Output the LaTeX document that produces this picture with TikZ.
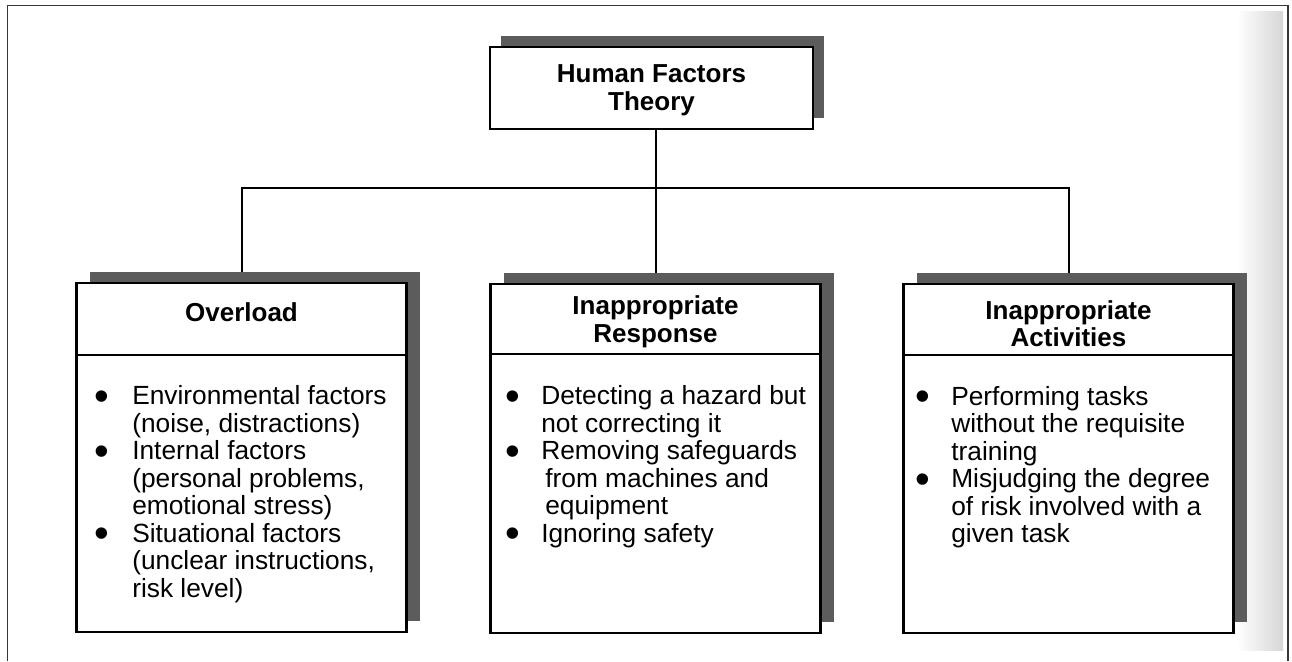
\documentclass[tikz,border=0pt]{standalone}
\usepackage{fontspec}
\setmainfont{Liberation Sans}
\usetikzlibrary{shadows,calc}
\pgfdeclarelayer{background}
\pgfsetlayers{background,main}
\definecolor{shadowc}{RGB}{92,92,92}
\definecolor{framec}{RGB}{55,55,55}
\newcommand{\blt}{\raisebox{-5.5pt}{\fontsize{42}{42}\selectfont\textbullet}}
\tikzset{
  box/.style={draw=black, line width=2.8pt, fill=white, inner sep=0pt,
    minimum width=330pt, minimum height=349pt,
    drop shadow={opacity=1, fill=shadowc, shadow xshift=13pt, shadow yshift=11.5pt}},
  topbox/.style={draw=black, line width=2.8pt, fill=white, inner sep=0pt,
    minimum width=323pt, minimum height=82pt,
    drop shadow={opacity=1, fill=shadowc, shadow xshift=11pt, shadow yshift=11pt}},
  hdr/.style={font=\fontsize{26}{27.5}\selectfont\bfseries, align=center, inner sep=0pt},
  body/.style={font=\fontsize{26.3}{27.5}\selectfont, anchor=north west, inner sep=0pt},
  divider/.style={line width=2pt},
  conn/.style={line width=2pt},
}
\begin{document}
\begin{tikzpicture}[x=1pt, y=-1pt]
\useasboundingbox (0,0) rectangle (1292,661);
% scan edge shading and frame
\begin{pgfonlayer}{background}
\shade[left color=white, right color=black!16] (1237,12) rectangle (1283,650);
\end{pgfonlayer}
\draw[framec, line width=1.5pt] (7.5,661) -- (7.5,5.5) -- (1288,5.5) -- (1288,661);

% nodes
\node[topbox] (top) at (651.5,88) {};
\node[hdr] (toptext) at ([yshift=-2.5pt]top.center) {Human Factors\\Theory};

\node[box] (c1) at (241.5,457.5) {};
\node[box] (c2) at (655.5,458.5) {};
\node[box] (c3) at (1068.5,458.5) {};

\draw[divider] ([yshift=-73pt]c1.north west) -- ([yshift=-73pt]c1.north east);
\draw[divider] ([yshift=-71pt]c2.north west) -- ([yshift=-71pt]c2.north east);
\draw[divider] ([yshift=-72pt]c3.north west) -- ([yshift=-72pt]c3.north east);

\node[hdr] (h1) at ([yshift=-31pt]c1.north) {Overload};
\node[hdr] (h2) at ([yshift=-39pt]c2.north) {Inappropriate\\Response};
\node[hdr] (h3) at ([yshift=-41pt]c3.north) {Inappropriate\\Activities};

\node[body] (b1) at ([xshift=19pt, yshift=-103.5pt]c1.north west) {%
\begin{tabular}{@{}p{38pt}@{}l@{}}
\blt & Environmental factors\\
     & (noise, distractions)\\
\blt & Internal factors\\
     & (personal problems,\\
     & emotional stress)\\
\blt & Situational factors\\
     & (unclear instructions,\\
     & risk level)
\end{tabular}};

\node[body] (b2) at ([xshift=16pt, yshift=-102.5pt]c2.north west) {%
\begin{tabular}{@{}p{36pt}@{}l@{}}
\blt & Detecting a hazard but\\
     & not correcting it\\
\blt & Removing safeguards\\
     & \hspace*{4pt}from machines and\\
     & \hspace*{4pt}equipment\\
\blt & Ignoring safety
\end{tabular}};

\node[body] (b3) at ([xshift=13pt, yshift=-103pt]c3.north west) {%
\begin{tabular}{@{}p{36pt}@{}l@{}}
\blt & Performing tasks\\
     & without the requisite\\
     & training\\
\blt & Misjudging the degree\\
     & of risk involved with a\\
     & given task
\end{tabular}};

% connectors
\coordinate (bus) at (0,188);
\begin{pgfonlayer}{background}
\draw[conn] (top.south -| c2.north) -- (c2.north);
\draw[conn] (c1.north) -- (c1.north |- bus) -- (c3.north |- bus) -- (c3.north);
\end{pgfonlayer}
\end{tikzpicture}
\end{document}
